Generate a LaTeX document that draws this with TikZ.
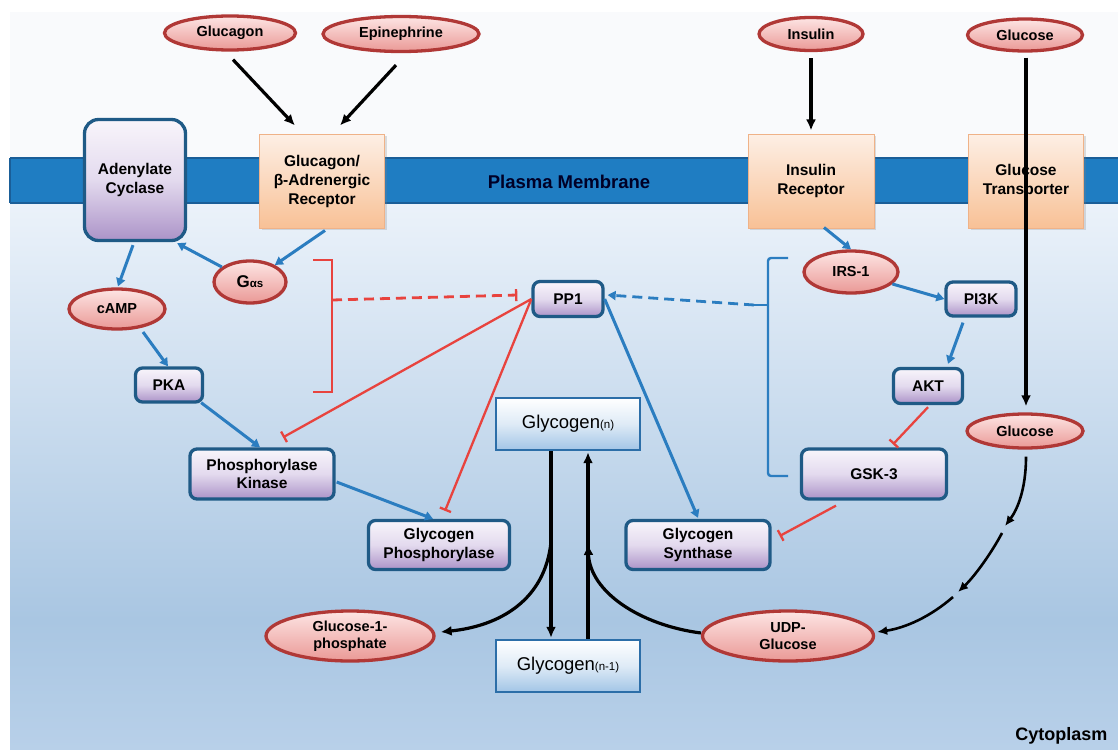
\documentclass[tikz,border=0pt]{standalone}
\usepackage{fontspec}
\setmainfont{Liberation Sans}
\usetikzlibrary{shapes.geometric,arrows.meta,calc,shadows}
\definecolor{membr}{HTML}{1F7DC2}
\definecolor{membd}{HTML}{1A5E98}
\definecolor{molred}{HTML}{B03836}
\definecolor{molt}{HTML}{FDE5E4}
\definecolor{molb}{HTML}{EA9996}
\definecolor{enzd}{HTML}{1F5A86}
\definecolor{enzt}{HTML}{F8F5FB}
\definecolor{enzm}{HTML}{E3DAEE}
\definecolor{enzb}{HTML}{AC93C8}
\definecolor{rect}{HTML}{FDEFE5}
\definecolor{recb}{HTML}{F8C196}
\definecolor{recd}{HTML}{EFB288}
\definecolor{glyd}{HTML}{2C6EA8}
\definecolor{glyb}{HTML}{A2C5E6}
\definecolor{arrb}{HTML}{2B7DC0}
\definecolor{inhr}{HTML}{E8433E}
\definecolor{cyt}{HTML}{EBF2FA}
\definecolor{cyb}{HTML}{A9C6E2}
\definecolor{cyl}{HTML}{B8D0E9}
\definecolor{topbg}{HTML}{F9FAFC}
\begin{document}
\begin{tikzpicture}[x=1pt,y=-1pt,
  mol/.style={ellipse, draw=molred, line width=3.3pt, top color=molt, bottom color=molb,
    inner sep=0pt, align=center, font=\fontsize{14.5}{17}\selectfont\bfseries},
  enz/.style={rectangle, rounded corners=7pt, draw=enzd, line width=3.3pt,
    top color=enzt, bottom color=enzb, middle color=enzm,
    inner sep=0pt, align=center, font=\fontsize{15.5}{18.5}\selectfont\bfseries},
  rec/.style={rectangle, draw=recd, line width=1pt, top color=rect, bottom color=recb,
    drop shadow={opacity=0.25, shadow xshift=2pt, shadow yshift=-2pt},
    inner sep=0pt, align=center, font=\fontsize{15.5}{19}\selectfont\bfseries},
  gly/.style={rectangle, draw=glyd, line width=2.4pt, top color=white, bottom color=glyb,
    middle color=white!65!glyb, inner sep=0pt, font=\fontsize{18.5}{20}\selectfont},
  barr/.style={draw=arrb, line width=3pt, -{Triangle[length=8pt,width=9pt]}},
  karr/.style={draw=black, line width=3.2pt, -{Latex[length=11pt,width=10pt]}},
  karrs/.style={draw=black, line width=2.6pt, -{Latex[length=10pt,width=9pt]}},
  inh/.style={draw=inhr, line width=2.3pt, -{Bar[width=12pt,line width=2.3pt]}},
  brk/.style={line width=2.8pt},
]
% background
\fill[white] (0,0) rectangle (1118,749);
\fill[topbg] (10,12) rectangle (1118,158);
\shade[top color=cyt, bottom color=cyb] (10,203) rectangle (1118,620);
\shade[top color=cyb, bottom color=cyl] (10,620) rectangle (1118,749);
\useasboundingbox (0,0) rectangle (1118,749);
% membrane
\fill[membr] (10,158) rectangle (1118,203);
\draw[membd, line width=1.5pt] (10,158) -- (1118,158) (10,203) -- (1118,203) (10,158) -- (10,203);
\node[font=\fontsize{18.5}{20}\selectfont\bfseries, text=black!85!blue] (pm) at (569,182) {Plasma Membrane};

% nodes
\node[mol, minimum width=131pt, minimum height=34pt] (glucagon) at (230,33) {Glucagon};
\node[mol, minimum width=156pt, minimum height=35pt] (epi) at (401,34) {Epinephrine};
\node[mol, minimum width=104pt, minimum height=33pt] (ins) at (811,34) {Insulin};
\node[mol, minimum width=115pt, minimum height=32pt] (glc) at (1025,35) {Glucose};
\node[rec, minimum width=125pt, minimum height=94pt] (gr) at (322,181) {Glucagon/\\β-Adrenergic\\Receptor};
\node[enz, rounded corners=14pt, minimum width=101pt, minimum height=121pt] (ac) at (135,180) {Adenylate\\Cyclase};
\node[rec, minimum width=126pt, minimum height=94pt] (ir) at (811,181) {Insulin\\Receptor};
\node[rec, minimum width=115pt, minimum height=94pt] (gt) at (1026,181) {Glucose\\Transporter};
\node[mol, minimum width=72pt, minimum height=42pt] (gas) at (250,282) {\fontsize{17}{17}\selectfont G\fontsize{11.5}{12}\selectfont αs};
\node[mol, minimum width=96pt, minimum height=40pt] (camp) at (117,309) {cAMP};
\node[enz, minimum width=67pt, minimum height=34pt] (pka) at (169,385) {PKA};
\node[enz, minimum width=144pt, minimum height=50pt] (phk) at (262,474) {Phosphorylase\\Kinase};
\node[enz, minimum width=141pt, minimum height=49pt] (gp) at (439,545) {Glycogen\\Phosphorylase};
\node[mol, minimum width=168pt, minimum height=50pt] (g1p) at (350,636) {Glucose-1-\\phosphate};
\node[gly, minimum width=144pt, minimum height=52pt] (gn) at (568,424) {Glycogen{\fontsize{11.5}{12}\selectfont(n)}};
\node[gly, minimum width=144pt, minimum height=52pt] (gn1) at (568,666) {Glycogen{\fontsize{11.5}{12}\selectfont(n-1)}};
\node[enz, minimum width=70pt, minimum height=35pt] (pp1) at (568,299) {PP1};
\node[enz, minimum width=144pt, minimum height=49pt] (gs) at (698,545) {Glycogen\\Synthase};
\node[mol, minimum width=94pt, minimum height=42pt] (irs) at (851,272) {IRS-1};
\node[enz, minimum width=70pt, minimum height=34pt] (pi3k) at (981,299) {PI3K};
\node[enz, minimum width=69pt, minimum height=35pt] (akt) at (928,386) {AKT};
\node[enz, minimum width=145pt, minimum height=50pt] (gsk) at (874,474) {GSK-3};
\node[mol, minimum width=116pt, minimum height=34pt] (glc2) at (1025,431) {Glucose};
\node[mol, minimum width=171pt, minimum height=50pt] (udp) at (788,636) {UDP-\\Glucose};
\node[anchor=east, font=\fontsize{18}{20}\selectfont\bfseries] (cyto) at (1111,736) {Cytoplasm};

% black input arrows
\draw[karr] ($(glucagon.south)+(3,8)$) -- ($(gr.north)+(-27,-8)$);
\draw[karr] ($(epi.south)+(-5,12)$) -- ($(gr.north)+(18,-8)$);
\draw[karr] ($(ins.south)+(0,6)$) -- ($(ir.north)+(0,-3)$);
\draw[karr] ($(glc.south)+(1,5)$) -- ($(glc2.north)+(1,-6)$);

% blue activations
\draw[barr] ($(gr.south)+(3,2)$) -- (gas);
\draw[barr] (gas) -- ($(ac.south east)+(-10,1)$);
\draw[barr] ($(ac.south)+(-2,3)$) -- ($(camp.north)+(1,-1)$);
\draw[barr] ($(camp.center)+(26,23)$) -- ($(pka.north)+(-1,0)$);
\draw[barr] ($(pka.south east)+(-3,-1)$) -- ($(phk.north)+(-2,0)$);
\draw[barr] ($(phk.east)+(1,8)$) -- ($(gp.north)+(-6,0)$);
\draw[barr] (pp1.east) -- ($(gs.north)+(0,-1)$);
\draw[barr] ($(ir.south)+(13,-1)$) -- (irs.north);
\draw[barr] (irs) -- (pi3k.west);
\draw[barr] ($(pi3k.south)+(-18,5)$) -- ($(akt.north)+(20,-3)$);

% red inhibitions
\draw[inh] (pp1.west) -- ($(phk.north)+(21,-10)$);
\draw[inh] (pp1.west) -- ($(gp.north)+(6,-8)$);
\draw[inh] ($(akt.south)+(0,2)$) -- ($(gsk.north)+(19,-3)$);
\draw[inh] ($(gsk.south)+(-38,5)$) -- ($(gs.east)+(8,-9)$);

% red bracket and dashed inhibition
\draw[inhr, brk] (313,260) -- (332,260) -- (332,392) -- (313,392);
\coordinate (rb) at (332,300);
\draw[inhr, line width=2.8pt, dash pattern=on 10pt off 6pt, -{Bar[width=12pt,line width=2.3pt]}] (rb) -- ($(pp1.west)+(-14,-4)$);

% blue bracket and dashed activation
\draw[arrb, line width=2.4pt, rounded corners=3pt] (788,258) -- (768,258) -- (768,476) -- (788,476);
\coordinate (bt) at (768,305);
\coordinate (bb) at (754,305);
\draw[arrb, line width=2.4pt] (bt) -- (bb);
\draw[arrb, line width=2.8pt, dash pattern=on 10pt off 6pt, -{Triangle[length=8pt,width=9pt]}] (bb) -- ($(pp1.east)+(3,-4)$);

% glycogen cycle
\draw[karr] ($(gn.south)+(-17,0)$) -- ($(gn1.north)+(-17,-1)$);
\draw[karr] ($(gn1.north)+(20,0)$) -- ($(gn.south)+(20,1)$);
\coordinate (split) at (551,542);
\coordinate (merge) at (588,544);
\draw[karr] (split) .. controls (545,600) and (500,626) .. ($(g1p.east)+(5,-4)$);
\draw[karr] ($(udp.west)+(0,-3)$) .. controls (640,625) and (590,592) .. (merge);

% glucose to UDP-glucose
\coordinate (c1) at (1005,526);
\coordinate (c2) at (1002,533);
\coordinate (c3) at (958,592);
\coordinate (c4) at (953,597);
\draw[karrs] ($(glc2.south)+(1,7)$) .. controls (1026,490) and (1017,510) .. (c1);
\draw[karrs] (c2) .. controls (992,552) and (975,576) .. (c3);
\draw[karrs] (c4) .. controls (930,617) and (905,628) .. ($(udp.east)+(2,-4)$);
\end{tikzpicture}
\end{document}
